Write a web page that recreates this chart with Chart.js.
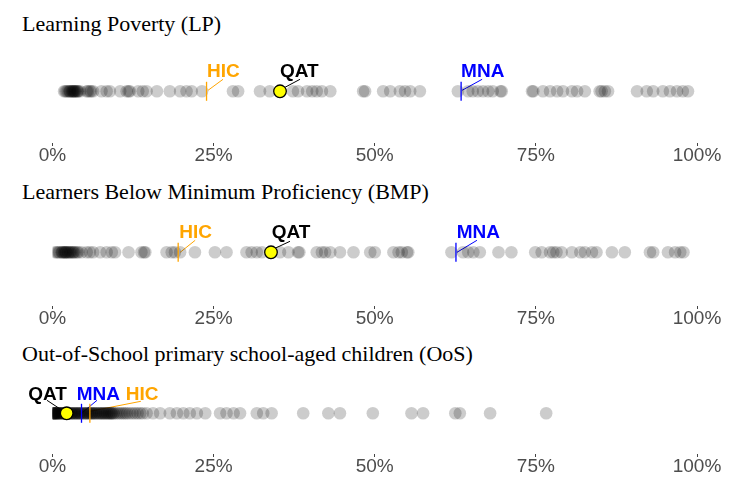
<!DOCTYPE html>
<html><head><meta charset="utf-8">
<script src="https://cdn.jsdelivr.net/npm/chart.js@4/dist/chart.umd.min.js"></script>
<style>
html,body{margin:0;padding:0;background:#fff}
body{width:735px;height:486px;overflow:hidden;position:relative}
.t{position:absolute;left:22px;font-family:"Liberation Serif","Times New Roman",serif;font-size:22px;color:#000;white-space:nowrap;line-height:22px}
canvas{position:absolute;left:0}
</style></head><body>
<div class="t" style="top:13px">Learning Poverty (LP)</div>
<div class="t" style="top:181px">Learners Below Minimum Proficiency (BMP)</div>
<div class="t" style="top:343px">Out-of-School primary school-aged children (OoS)</div>
<canvas id="c1" width="735" height="134" style="top:32px"></canvas>
<canvas id="c2" width="735" height="138" style="top:191px"></canvas>
<canvas id="c3" width="735" height="112" style="top:365px"></canvas>
<script>
// ---- data (percent) ----
const tickValues = [0, 25, 50, 75, 100];
const tickLabels = ['0%', '25%', '50%', '75%', '100%'];

const lpValues = [1.8,2.0,2.2,2.4,2.6,2.7,2.8,3.0,3.1,3.2,3.3,3.4,3.5,3.6,3.8,3.9,4.0,4.3,5.3,5.5,5.8,6.0,6.3,7.6,8.4,8.9,10.5,11.5,11.8,12.0,13.3,14.0,14.6,16.2,18.2,19.8,20.8,21.6,23.2,28.0,28.8,32.2,33.7,37.3,38.1,39.5,40.3,41.0,41.8,43.1,48.2,48.5,51.3,52.4,53.9,54.7,55.5,57.0,62.9,64.5,65.2,66.0,66.8,67.6,68.3,69.5,69.7,74.4,74.6,76.1,77.2,78.3,79.2,80.6,81.4,82.6,84.9,85.2,85.7,86.2,90.7,92.2,93.2,94.7,95.8,96.9,97.8,98.6];
const lpMarkers = {QAT: 35.3, HIC: 23.9, MNA: 63.4};

const bmpValues = [0.4,0.7,0.9,1.1,1.4,1.5,1.6,1.8,1.9,2.0,2.1,2.2,2.4,2.5,2.7,2.8,3.0,3.2,3.3,3.5,3.8,4.0,4.5,5.3,5.8,6.3,7.4,8.4,9.2,9.7,11.8,13.8,14.2,14.4,17.7,18.5,19.0,19.8,22.1,25.2,27.0,30.1,30.9,31.7,32.5,35.3,36.6,38.1,38.3,41.0,41.8,42.3,43.1,44.6,46.7,49.3,50.0,52.9,53.7,54.2,55.0,55.2,61.9,63.7,64.5,65.3,66.3,69.2,71.2,74.9,75.9,77.2,77.7,78.2,79.0,80.6,81.9,82.6,83.7,84.4,86.8,88.8,92.7,93.2,95.5,96.6,97.4,97.9];
const bmpMarkers = {QAT: 33.9, HIC: 19.5, MNA: 62.6};

const oosValues = [0.0,0.1,0.1,0.2,0.2,0.3,0.3,0.4,0.5,0.5,0.6,0.7,0.8,0.8,0.9,1.0,1.1,1.2,1.3,1.4,1.5,1.6,1.7,1.8,1.9,2.0,2.1,2.2,2.3,2.4,2.5,2.6,2.8,2.9,3.0,3.1,3.3,3.4,3.5,3.7,3.8,3.9,4.1,4.2,4.3,4.5,4.6,4.8,5.0,5.1,5.2,5.4,5.5,5.7,5.8,6.0,6.1,6.2,6.4,6.5,6.7,6.8,7.0,7.2,7.3,7.5,7.6,7.8,7.9,8.1,8.2,8.4,8.5,8.7,8.8,9.0,9.1,9.2,9.4,9.5,9.8,10.1,10.4,10.7,11.0,11.3,11.6,12.0,12.4,12.8,13.2,13.6,14.0,14.6,15.6,16.7,18.2,19.3,20.3,21.3,22.4,23.7,26.0,27.0,28.1,29.1,31.7,32.7,34.0,38.9,42.8,44.6,49.7,55.7,57.5,62.5,63.2,67.9,76.6];
const oosMarkers = {QAT: 2.2, MNA: 4.5, HIC: 5.8};

const labelColors = {QAT: '#000000', HIC: '#FFA500', MNA: '#0000FF'};

// label placement (offsets from the marker pixel): text, leader start, leader end
const lpLayout = {
  HIC: {tx: 0.5, ty: -14, l: [1.5, -1, 16.5, -12]},
  QAT: {tx: 0, ty: -14, l: [5, -4, 20, -12]},
  MNA: {tx: 0, ty: -14, l: [1, -1, 21, -12]}
};
const bmpLayout = {
  HIC: {tx: 1, ty: -14, l: [2, 0, 17, -12]},
  QAT: {tx: 0.7, ty: -14, l: [4, -4, 19, -11]},
  MNA: {tx: 0.7, ty: -14, l: [1, 0, 21, -12]}
};
const oosLayout = {
  QAT: {tx: -38.4, ty: -13, l: [-19.7, -13, 0, 0]},
  MNA: {tx: -4.8, ty: -13, l: [0, 0, 15.5, -13]},
  HIC: {tx: 35.8, ty: -13, l: [0, -2, 51, -12]}
};

const annotPlugin = {
  id: 'annot',
  beforeDatasetsDraw(chart, args, opts) {
    const ctx = chart.ctx, xs = chart.scales.x, ys = chart.scales.y;
    const py = ys.getPixelForValue(0);
    ctx.save();
    ctx.lineWidth = 1;
    for (const k of Object.keys(opts.markers)) {
      const px = xs.getPixelForValue(opts.markers[k]);
      const L = opts.layout[k].l;
      ctx.strokeStyle = labelColors[k];
      ctx.beginPath();
      ctx.moveTo(px + L[0], py + L[1]);
      ctx.lineTo(px + L[2], py + L[3]);
      ctx.stroke();
    }
    ctx.restore();
  },
  afterDatasetsDraw(chart, args, opts) {
    const ctx = chart.ctx, xs = chart.scales.x, ys = chart.scales.y;
    const py = ys.getPixelForValue(0);
    ctx.save();
    for (const k of Object.keys(opts.markers)) {
      const px = xs.getPixelForValue(opts.markers[k]);
      const lay = opts.layout[k];
      if (k !== 'QAT') {
        ctx.strokeStyle = labelColors[k];
        ctx.lineWidth = 1.3;
        ctx.beginPath();
        ctx.moveTo(px, py - 9.5);
        ctx.lineTo(px, py + 9.5);
        ctx.stroke();
      }
      ctx.fillStyle = labelColors[k];
      ctx.font = 'bold 19px "Liberation Sans", Arial, sans-serif';
      ctx.textBaseline = 'alphabetic';
      ctx.textAlign = 'left';
      ctx.fillText(k, px + lay.tx, py + lay.ty);
    }
    ctx.restore();
  }
};

function makePanel(id, values, markers, layout) {
  return new Chart(document.getElementById(id), {
    type: 'scatter',
    data: {
      datasets: [
        {data: [{x: markers.QAT, y: 0}], backgroundColor: '#FFFF00', borderColor: '#000000',
         borderWidth: 1.3, pointRadius: 6.3, pointHoverRadius: 6.3, order: 1},
        {data: values.map(v => ({x: v, y: 0})), backgroundColor: 'rgba(0,0,0,0.2)', borderWidth: 0,
         pointRadius: 6.3, pointHoverRadius: 6.3, order: 2}
      ]
    },
    options: {
      responsive: false, animation: false, devicePixelRatio: 1,
      events: [],
      layout: {padding: {left: 52.5, right: 38, top: 0, bottom: 0}},
      plugins: {legend: {display: false}, tooltip: {enabled: false}, title: {display: false},
        annot: {markers: markers, layout: layout}},
      scales: {
        x: {
          type: 'linear', min: 0, max: 100,
          afterBuildTicks: s => { s.ticks = tickValues.map(v => ({value: v})); },
          ticks: {
            callback: (v) => tickLabels[tickValues.indexOf(v)],
            color: '#4D4D4D', padding: 0.5,
            font: {family: '"Liberation Sans", Arial, sans-serif', size: 19, lineHeight: 1}
          },
          grid: {display: true, drawOnChartArea: false, drawTicks: true, tickLength: 3, color: '#444', lineWidth: 1},
          border: {display: false}
        },
        y: {display: false, min: -1, max: 1}
      }
    },
    plugins: [annotPlugin]
  });
}

makePanel('c1', lpValues, lpMarkers, lpLayout);
makePanel('c2', bmpValues, bmpMarkers, bmpLayout);
makePanel('c3', oosValues, oosMarkers, oosLayout);
</script>
</body></html>
